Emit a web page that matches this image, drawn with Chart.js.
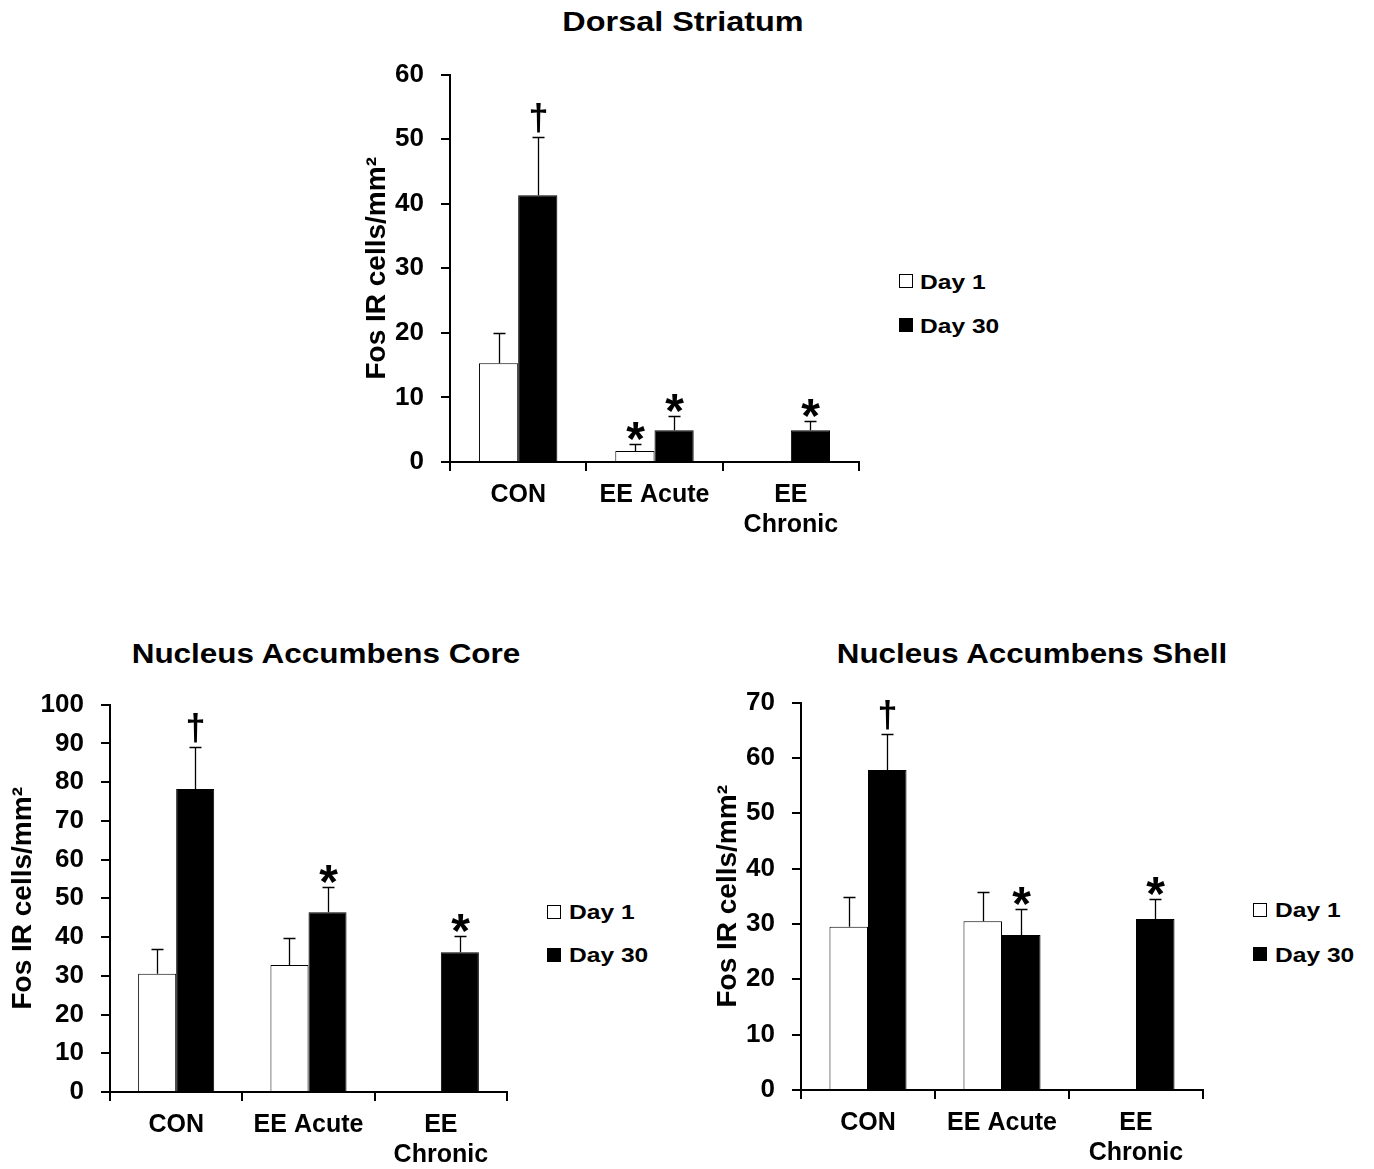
<!DOCTYPE html>
<html>
<head>
<meta charset="utf-8">
<script src="https://cdn.jsdelivr.net/npm/chart.js@4.4.1/dist/chart.umd.min.js"></script>
<style>
    html, body { margin: 0; padding: 0; background: #fff; overflow: hidden; }
    body { width: 1374px; height: 1169px; position: relative; font-family: "Liberation Sans", Arial, sans-serif; color: #000; }
    canvas { position: absolute; }
    .title { position: absolute; width: 600px; text-align: center; font-weight: bold; font-size: 27px; line-height: 27px; white-space: nowrap; transform-origin: center; }
    .box { position: absolute; width: 12px; height: 12px; border: 1px solid #000; }
    .lbl { position: absolute; font-weight: bold; font-size: 21px; line-height: 21px; white-space: nowrap; transform: scaleX(1.17); transform-origin: left; }
</style>
</head>
<body>
<div class="title" style="left:383px;top:9px;transform:scaleX(1.2)">Dorsal Striatum</div>
<div class="title" style="left:26px;top:641px;transform:scaleX(1.165)">Nucleus Accumbens Core</div>
<div class="title" style="left:732px;top:641px;transform:scaleX(1.16)">Nucleus Accumbens Shell</div>

<canvas id="striatum" width="539" height="497"></canvas>
<canvas id="core" width="527" height="484"></canvas>
<canvas id="shell" width="532" height="486"></canvas>

<!-- legends -->
<div class="box" style="left:899px;top:274px;background:#fff"></div>
<div class="lbl" style="left:920px;top:271px">Day 1</div>
<div class="box" style="left:899px;top:318px;background:#000"></div>
<div class="lbl" style="left:920px;top:315px">Day 30</div>

<div class="box" style="left:547px;top:905px;background:#fff"></div>
<div class="lbl" style="left:569px;top:901px">Day 1</div>
<div class="box" style="left:547px;top:948px;background:#000"></div>
<div class="lbl" style="left:569px;top:944px">Day 30</div>

<div class="box" style="left:1253px;top:903px;background:#fff"></div>
<div class="lbl" style="left:1275px;top:899px">Day 1</div>
<div class="box" style="left:1253px;top:947px;background:#000"></div>
<div class="lbl" style="left:1275px;top:944px">Day 30</div>

<script>
// Data
const categories = ["CON", "EE Acute", ["EE", "Chronic"]];

// Dorsal Striatum
const striatumDay1 = [15.3, 1.7, null];
const striatumDay1Err = [4.7, 1.1, null];
const striatumDay30 = [41.3, 4.9, 4.9];
const striatumDay30Err = [9.1, 2.2, 1.4];
const striatumDay1Marks = ["", "*", ""];
const striatumDay30Marks = ["†", "*", "*"];

// Nucleus Accumbens Core
const coreDay1 = [30.5, 32.8, null];
const coreDay1Err = [6.4, 6.9, null];
const coreDay30 = [78.2, 46.4, 36.1];
const coreDay30Err = [10.8, 6.6, 4.1];
const coreDay1Marks = ["", "", ""];
const coreDay30Marks = ["†", "*", "*"];

// Nucleus Accumbens Shell
const shellDay1 = [29.5, 30.5, null];
const shellDay1Err = [5.3, 5.2, null];
const shellDay30 = [57.8, 28.0, 30.9];
const shellDay30Err = [6.5, 4.7, 3.6];
const shellDay1Marks = ["", "", ""];
const shellDay30Marks = ["†", "*", "*"];

Chart.defaults.font.family = '"Liberation Sans", Arial, sans-serif';
Chart.defaults.color = "#000";

// upward-only error bars with caps, plus the significance symbols
const errorBars = {
    id: "errorBars",
    afterDatasetsDraw(chart) {
        const { ctx } = chart;
        const yScale = chart.scales.y;
        chart.data.datasets.forEach((ds, i) => {
            const meta = chart.getDatasetMeta(i);
            meta.data.forEach((bar, j) => {
                const v = ds.data[j];
                if (v == null) return;
                const x = Math.round(bar.x) + 0.5;
                const yTop = yScale.getPixelForValue(v);
                const yErr = Math.round(yScale.getPixelForValue(v + ds.errors[j])) + 0.5;
                ctx.save();
                ctx.strokeStyle = "#000";
                ctx.lineWidth = 1.3;
                ctx.beginPath();
                ctx.moveTo(x, yTop);
                ctx.lineTo(x, yErr);
                ctx.moveTo(x - 6, yErr);
                ctx.lineTo(x + 6, yErr);
                ctx.stroke();

                const mark = ds.marks[j];
                if (mark) {
                    ctx.fillStyle = "#000";
                    ctx.textAlign = "center";
                    ctx.textBaseline = "alphabetic";
                    ctx.font = mark === "*"
                        ? 'bold 48px "Liberation Sans", Arial, sans-serif'
                        : 'bold 36px "Liberation Sans", Arial, sans-serif';
                    const m = ctx.measureText(mark);
                    ctx.fillText(mark, x, yErr - 5 - m.actualBoundingBoxDescent);
                }
                ctx.restore();
            });
        });
    },
};

function makeConfig(cfg) {
    return {
        type: "bar",
        data: {
            labels: categories,
            datasets: [
                {
                    label: "Day 1",
                    data: cfg.day1,
                    errors: cfg.day1Err,
                    marks: cfg.day1Marks,
                    backgroundColor: "#fff",
                    borderColor: "#000",
                    borderWidth: 1,
                },
                {
                    label: "Day 30",
                    data: cfg.day30,
                    errors: cfg.day30Err,
                    marks: cfg.day30Marks,
                    backgroundColor: "#000",
                    borderColor: "#000",
                    borderWidth: 1,
                },
            ],
        },
        options: {
            responsive: false,
            maintainAspectRatio: false,
            animation: false,
            layout: {
                padding: { top: 20, right: 20, left: 0, bottom: 0 },
            },
            datasets: {
                bar: { barPercentage: 1, categoryPercentage: 0.575 },
            },
            plugins: {
                legend: { display: false },
                tooltip: { enabled: false },
            },
            scales: {
                x: {
                    grid: {
                        offset: true,
                        drawOnChartArea: false,
                        tickLength: 9,
                        color: "#000",
                        lineWidth: 2,
                    },
                    border: { color: "#000", width: 2 },
                    ticks: {
                        font: { size: 25, weight: "bold" },
                        color: "#000",
                        padding: 9,
                        maxRotation: 0,
                        autoSkip: false,
                    },
                    afterFit(scale) {
                        scale.height = cfg.xH;
                    },
                },
                y: {
                    min: 0,
                    max: cfg.max,
                    ticks: {
                        stepSize: 10,
                        font: { size: 26, weight: "bold" },
                        color: "#000",
                        padding: 17,
                    },
                    grid: {
                        drawOnChartArea: false,
                        tickLength: 9,
                        color: "#000",
                        lineWidth: 2,
                    },
                    border: { color: "#000", width: 2 },
                    title: {
                        display: true,
                        text: "Fos IR cells/mm²",
                        font: { size: 28, weight: "bold" },
                        color: "#000",
                        padding: { top: cfg.titlePad, bottom: 0 },
                    },
                    afterFit(scale) {
                        scale.width = 110;
                    },
                },
            },
        },
        plugins: [errorBars],
    };
}

// build once to learn where the plot area lands, then size and place the canvas
function buildChart(id, cfg) {
    const canvas = document.getElementById(id);
    let chart = new Chart(canvas, makeConfig(cfg));
    const { top, left } = chart.chartArea;
    chart.destroy();
    canvas.width = cfg.width;
    canvas.height = Math.round(top + cfg.plotH + cfg.xH);
    canvas.style.left = (cfg.left - left) + "px";
    canvas.style.top = (cfg.top - top) + "px";
    return new Chart(canvas, makeConfig(cfg));
}

buildChart("striatum", {
    day1: striatumDay1, day1Err: striatumDay1Err, day1Marks: striatumDay1Marks,
    day30: striatumDay30, day30Err: striatumDay30Err, day30Marks: striatumDay30Marks,
    max: 60, xH: 90, titlePad: 20,
    left: 450, top: 75, plotH: 387, width: 539,
});

buildChart("core", {
    day1: coreDay1, day1Err: coreDay1Err, day1Marks: coreDay1Marks,
    day30: coreDay30, day30Err: coreDay30Err, day30Marks: coreDay30Marks,
    max: 100, xH: 77, titlePad: 6,
    left: 110, top: 705, plotH: 387, width: 527,
});

buildChart("shell", {
    day1: shellDay1, day1Err: shellDay1Err, day1Marks: shellDay1Marks,
    day30: shellDay30, day30Err: shellDay30Err, day30Marks: shellDay30Marks,
    max: 70, xH: 79, titlePad: 20,
    left: 801, top: 703, plotH: 387, width: 532,
});
</script>
</body>
</html>
